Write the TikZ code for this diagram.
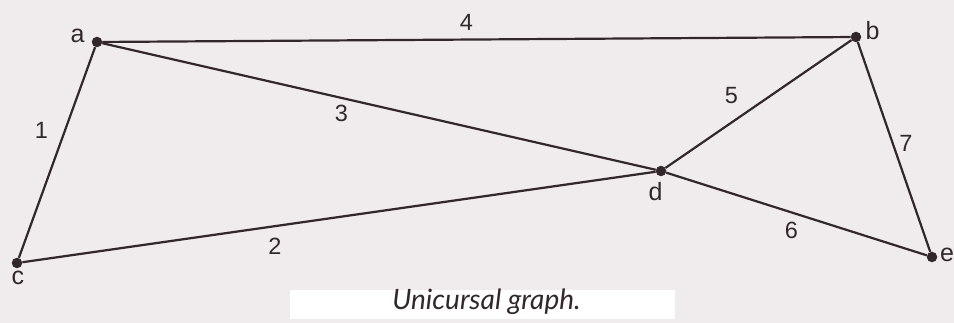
\documentclass[tikz,border=0pt]{standalone}
\usepackage{fontspec}
\setmainfont{Liberation Sans}
\newfontfamily\capfont{Lato}
\definecolor{bgcol}{RGB}{240,236,238}
\definecolor{ink}{RGB}{50,40,42}
\begin{document}
\begin{tikzpicture}[x=1pt,y=-1pt,
  vtx/.style={circle,fill=ink,inner sep=0pt,minimum size=10.5pt},
  edge/.style={draw=ink,line width=2.2pt},
  vlab/.style={anchor=base,text=ink,font=\fontsize{25}{25}\selectfont,inner sep=0pt},
  elab/.style={anchor=base,text=ink,font=\fontsize{23.5}{23.5}\selectfont,inner sep=0pt}]
\fill[bgcol] (0,0) rectangle (954,323);
\useasboundingbox (0,0) rectangle (954,323);
\node[vtx] (a) at (97,42) {};
\node[vtx] (b) at (856,37) {};
\node[vtx] (c) at (17,263) {};
\node[vtx] (d) at (661,171) {};
\node[vtx] (e) at (932,257) {};
\draw[edge] (a) -- (b);
\draw[edge] (a) -- (c);
\draw[edge] (a) -- (d);
\draw[edge] (c) -- (d);
\draw[edge] (d) -- (b);
\draw[edge] (d) -- (e);
\draw[edge] (b) -- (e);
\node[vlab] (la) at (77.5,43) {a};
\node[vlab] (lb) at (872.5,40) {b};
\node[vlab] (lc) at (18,285) {c};
\node[vlab] (ld) at (655.5,201) {d};
\node[vlab] (le) at (947,262) {e};
\node[elab] (n4) at (466.5,31) {4};
\node[elab] (n1) at (41.5,139) {1};
\node[elab] (n3) at (341.5,122) {3};
\node[elab] (n2) at (275,255) {2};
\node[elab] (n5) at (731.5,104) {5};
\node[elab] (n6) at (791.5,239) {6};
\node[elab] (n7) at (906,152) {7};
\fill[white] (290,290) rectangle (675,319);
\node[anchor=base,text=ink,font=\capfont\itshape\fontsize{28}{28}\selectfont,inner sep=0pt] (cap) at (486.5,310) {Unicursal graph.};
\end{tikzpicture}
\end{document}
